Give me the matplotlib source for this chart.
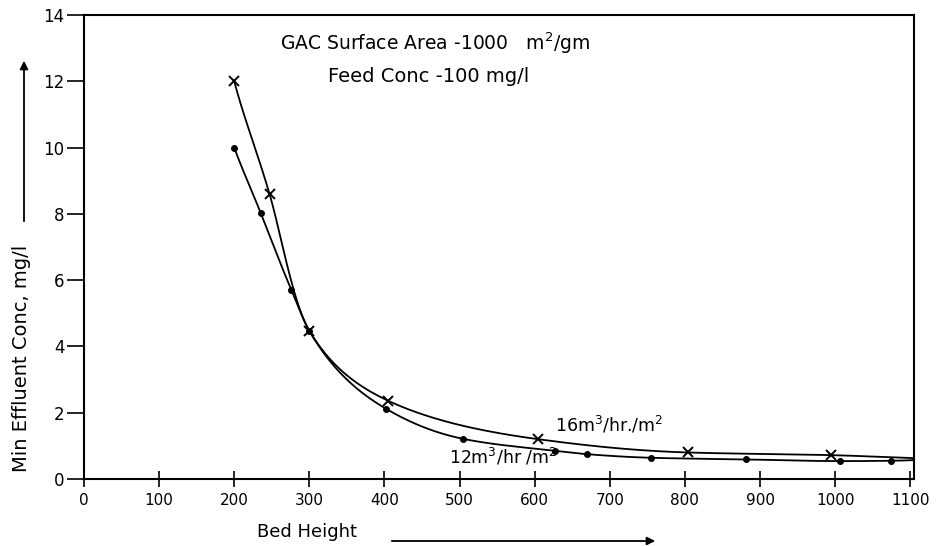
import numpy as np
import matplotlib
matplotlib.use("Agg")
import matplotlib.pyplot as plt

# ======================================================
# Data
# ======================================================

# 16 m3/hr/m2 loading (cross markers)
hi_x = [200, 247, 300, 405, 605, 804, 995]
hi_y = [12.0, 8.6, 4.47, 2.36, 1.2, 0.8, 0.72]

# 12 m3/hr/m2 loading (dot markers)
lo_x = [200, 235, 276, 300, 402, 505, 627, 669, 755, 882, 1007, 1074]
lo_y = [10.0, 8.04, 5.71, 4.47, 2.12, 1.21, 0.85, 0.75, 0.64, 0.59, 0.54, 0.55]

# where each curve meets the right-hand frame
hi_end = 0.63
lo_end = 0.57

x_ticks = list(range(0, 1101, 100))
y_ticks = list(range(0, 15, 2))

X_MAX = 1105


def pchip(x, y, xs):
    # monotone cubic through the points, used only to draw the smooth curve
    x = np.asarray(x, float)
    y = np.asarray(y, float)
    h = np.diff(x)
    d = np.diff(y) / h
    m = np.zeros_like(y)
    m[0] = d[0]
    m[-1] = d[-1]
    for k in range(1, len(x) - 1):
        if d[k - 1] * d[k] <= 0:
            m[k] = 0.0
        else:
            w1 = 2 * h[k] + h[k - 1]
            w2 = h[k] + 2 * h[k - 1]
            m[k] = (w1 + w2) / (w1 / d[k - 1] + w2 / d[k])
    i = np.clip(np.searchsorted(x, xs) - 1, 0, len(h) - 1)
    t = (xs - x[i]) / h[i]
    h00 = 2 * t**3 - 3 * t**2 + 1
    h10 = t**3 - 2 * t**2 + t
    h01 = -2 * t**3 + 3 * t**2
    h11 = t**3 - t**2
    return h00 * y[i] + h10 * h[i] * m[i] + h01 * y[i + 1] + h11 * h[i] * m[i + 1]


plt.rcParams["font.family"] = ["DejaVu Sans"]
plt.rcParams["mathtext.fontset"] = "dejavusans"

fig = plt.figure(figsize=(9.48, 5.46), dpi=100)
ax = fig.add_axes([84 / 948, 1 - 479 / 546, 830 / 948, 464 / 546])

# ======================================================
# Curves (interpolated on log values so the tail stays flat)
# ======================================================

for xs_, ys_, end in [(hi_x, hi_y, hi_end), (lo_x, lo_y, lo_end)]:
    cx = list(xs_) + [X_MAX]
    cy = list(ys_) + [end]
    grid = np.linspace(cx[0], cx[-1], 800)
    ax.plot(grid, np.exp(pchip(cx, np.log(cy), grid)),
            color="black", lw=1.3)

ax.plot(hi_x, hi_y, "x", color="black", ms=7, mew=1.4)
ax.plot(lo_x, lo_y, "o", color="black", ms=4)

# ======================================================
# Axes
# ======================================================

ax.set_xlim(0, X_MAX)
ax.set_ylim(0, 14)
ax.set_xticks(x_ticks)
ax.set_yticks(y_ticks)
ax.set_xticklabels([str(v) for v in x_ticks], fontsize=11)
ax.set_yticklabels([str(v) for v in y_ticks], fontsize=12)
ax.tick_params(axis="x", direction="inout", length=12, width=1.2, pad=4)
ax.tick_params(axis="y", direction="out", length=12, width=1.2, pad=2)
for s in ax.spines.values():
    s.set_linewidth(1.5)

ax.text(0.236, 0.925, "GAC Surface Area -1000   m$^2$/gm",
        transform=ax.transAxes, fontsize=13.5)
ax.text(0.294, 0.856, "Feed Conc -100 mg/l",
        transform=ax.transAxes, fontsize=14)

ax.text(699, 1.63, "16m$^3$/hr./m$^2$", fontsize=12.5,
        ha="center", va="center")
ax.text(558, 0.66, "12m$^3$/hr /m$^2$", fontsize=12.5,
        ha="center", va="center")

# axis titles with direction arrows
fig.text(22 / 948, 1 - 358 / 546, "Min Effluent Conc, mg/l",
         rotation=90, ha="center", va="center", fontsize=14)
fig.text(257 / 948, 1 - 532 / 546, "Bed Height",
         ha="left", va="center", fontsize=13)

fig.add_artist(matplotlib.patches.FancyArrowPatch(
    (24 / 948, 1 - 224 / 546), (24 / 948, 1 - 58 / 546),
    transform=fig.transFigure, arrowstyle="-|>", mutation_scale=12,
    color="black", lw=1.3))
fig.add_artist(matplotlib.patches.FancyArrowPatch(
    (389 / 948, 1 - 541 / 546), (658 / 948, 1 - 541 / 546),
    transform=fig.transFigure, arrowstyle="-|>", mutation_scale=12,
    color="black", lw=1.3))

fig.savefig("out.png", dpi=100)
